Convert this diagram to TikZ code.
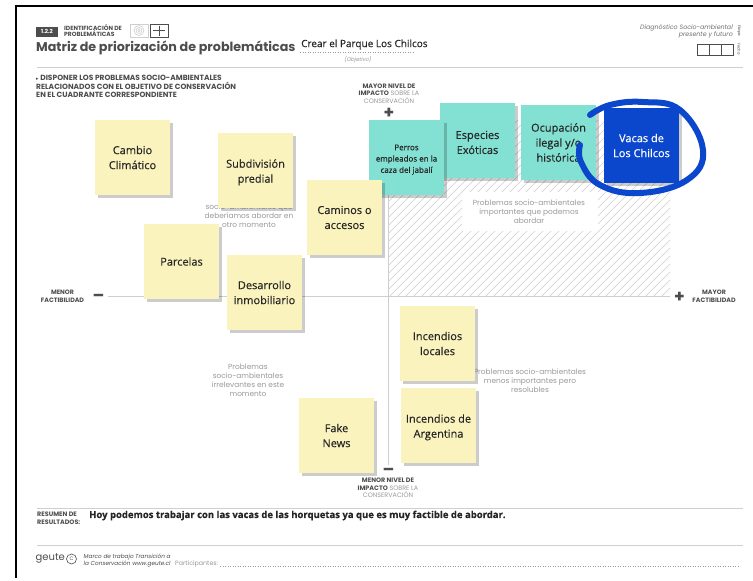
\documentclass[tikz,border=0pt]{standalone}
\usepackage{fontspec}
\setmainfont{Poppins}
\newfontfamily\handf[FakeBold=0.25]{Open Sans}
\newfontfamily\symf{DejaVu Sans}
\usetikzlibrary{shadows}
\definecolor{stickyY}{HTML}{FBF3BE}
\definecolor{stickyT}{HTML}{82E1D2}
\definecolor{stickyB}{HTML}{0A47CC}
\definecolor{inkD}{HTML}{4D4D4D}
\definecolor{inkG}{HTML}{9A9A9A}
\definecolor{ruleG}{HTML}{CFCFCF}
\newcommand{\fsz}[2]{\fontsize{#1}{#2}\selectfont}
\newcommand{\dn}{\rule{0pt}{12pt}}
\tikzset{
  stickybase/.style={minimum width=75pt,minimum height=75pt,inner sep=0pt,outer sep=0pt,align=center,
    font=\handf\fsz{11}{15},text=black!85,
    drop shadow={shadow xshift=3pt,shadow yshift=-3pt,fill=black,opacity=.2}},
  yellownote/.style={stickybase,fill=stickyY},
  tealnote/.style={stickybase,fill=stickyT},
  bluenote/.style={stickybase,fill=stickyB,text=white},
  quadtext/.style={align=center,inner sep=0pt,text=inkG,font=\fsz{7.4}{9.1}},
  axislabel/.style={align=center,inner sep=0pt,text=inkD,font=\fsz{6.4}{7.4}},
  smalllabel/.style={inner sep=0pt,text=inkD},
  rulethin/.style={draw=ruleG,line width=1pt},
  axisline/.style={draw=ruleG,line width=1.1pt},
  dotline/.style={draw=inkG,line width=.5pt,dotted},
  sign/.style={inner sep=0pt,text=inkD,font=\bfseries\fsz{17}{17}},
}
\begin{document}
\begin{tikzpicture}[x=1pt,y=-1pt]
\useasboundingbox (0,0) rectangle (753,581);
\fill[white] (0,0) rectangle (753,581);
% frame
\coordinate (fa) at (16,578);\coordinate (fb) at (16,6);\coordinate (fc) at (753,6);
\draw[black,line width=1.6pt] (fa) -- (fb) -- (fc);
% hatching
\begin{scope}
\clip (389,120) rectangle (670,296);
\foreach \i in {0,...,62}{\draw[ruleG,line width=.5pt] (190+8*\i,296) -- (390+8*\i,96);}
\end{scope}
\fill[white] (462,192) rectangle (598,231);
% rules
\coordinate (ra) at (37,67);\coordinate (rb) at (743,67);
\draw[rulethin] (ra) -- (rb);
\coordinate (rc) at (37,508);\coordinate (rd) at (743,508);
\draw[rulethin] (rc) -- (rd);
\coordinate (re) at (37,545.5);\coordinate (rf) at (743,545.5);
\draw[rulethin] (re) -- (rf);
% header
\fill[inkD] (36,26.5) rectangle (58,37);
\node[inner sep=0pt,text=white,font=\bfseries\fsz{5.6}{6}] (badge) at (47,31.8) {1.2.2};
\node[smalllabel,anchor=west,align=left,font=\bfseries\fsz{6}{6.4}] (ident) at (64,30.3) {IDENTIFICACIÓN DE\\PROBLEMÁTICAS};
\draw[ruleG,line width=.6pt] (130,24) rectangle (148,37);
\draw[ruleG,line width=.6pt] (139,30.5) circle (5) (139,30.5) circle (3) (139,30.5) circle (1.2);
\draw[inkD,line width=.6pt] (150,24) rectangle (168,37);
\draw[inkD,line width=.5pt] (159,25.5) -- (159,35.5) (153,30.5) -- (165,30.5);
\node[smalllabel,anchor=west,font=\bfseries\fsz{12.7}{15}] (title) at (36,48) {Matriz de priorización de problemáticas};
\node[inner sep=0pt,anchor=west,text=black!85,font=\handf\fsz{10}{11}] (goal) at (301,44.5) {Crear el Parque Los Chilcos};
\coordinate (ga) at (300,52);\coordinate (gb) at (414,52);
\draw[dotline] (ga) -- (gb);
\node[inner sep=0pt,text=inkG,font=\itshape\fsz{5.4}{6}] (objetivo) at (358,60) {(Objetivo)};
\node[smalllabel,anchor=north west,align=left,font=\bfseries\fsz{7.5}{8.7}] (instr) at (36,75) {{\symf\fsz{5}{8.7}▸} DISPONER LOS PROBLEMAS SOCIO-AMBIENTALES\\RELACIONADOS CON EL OBJETIVO DE CONSERVACIÓN\\EN EL CUADRANTE CORRESPONDIENTE};
\node[inner sep=0pt,anchor=east,align=right,text=inkD!80,font=\itshape\fsz{6.3}{7.2}] (diag) at (733,31.5) {Diagnóstico Socio-ambiental\\presente y futuro};
\draw[inkD,line width=.5pt] (697,44) rectangle (733,55) (709,44) -- (709,55) (721,44) -- (721,55);
\node[inner sep=0pt,rotate=-90,text=inkD,font=\itshape\fsz{3.8}{4}] (etapa) at (739,31) {Etapa};
\node[inner sep=0pt,rotate=-90,text=inkD,font=\itshape\fsz{3.8}{4}] (fecha) at (739,49) {Fecha};
% quadrant texts
\node[quadtext] (q1) at (249,211.5) {Problemas\\socio-ambientales que\\deberíamos abordar en\\otro momento};
\node[quadtext] (q2) at (529,212) {Problemas socio-ambientales\\importantes que podemos\\abordar};
\node[quadtext] (q3) at (248,380.5) {Problemas\\socio-ambientales\\irrelevantes en este\\momento};
\node[quadtext] (q4) at (530,381) {Problemas socio-ambientales\\menos importantes pero\\resolubles};
% axes
\coordinate (hl) at (108,296.5);\coordinate (hr) at (670,296.5);
\coordinate (vt) at (388.5,120);\coordinate (vb) at (388.5,465);
\draw[axisline] (hl) -- (hr);
\draw[axisline] (vt) -- (vb);
\node[sign] (plusT) at (389,113) {+};
\node[sign] (minusB) at (388.5,472) {–};
\node[sign] (minusL) at (98.5,298) {–};
\node[sign] (plusR) at (679.5,297.5) {+};
\node[axislabel] (topl) at (389,93.5) {\textbf{MAYOR NIVEL DE}\\\textbf{IMPACTO} {\color{inkG}SOBRE LA}\\{\color{inkG}CONSERVACIÓN}};
\node[axislabel] (botl) at (388,488) {\textbf{MENOR NIVEL DE}\\\textbf{IMPACTO} {\color{inkG}SOBRE LA}\\{\color{inkG}CONSERVACIÓN}};
\node[axislabel,font=\bfseries\fsz{6.3}{7.6}] (leftl) at (62.5,296.5) {MENOR\\FACTIBILIDAD};
\node[axislabel,font=\bfseries\fsz{6.3}{7.6}] (rightl) at (714,296.5) {MAYOR\\FACTIBILIDAD};
% notes
\node[yellownote] (cambio) at (132.5,157.5) {Cambio\\Climático};
\node[yellownote] (subdiv) at (255.5,170.5) {\dn Subdivisión\\predial};
\node[tealnote] (especies) at (477.5,140.5) {\dn Especies\\Exóticas};
\node[tealnote] (ocupa) at (558.5,142.5) {Ocupación\\ilegal y/o\\histórica};
\node[tealnote,font=\handf\fsz{8}{11.3}] (perros) at (406.5,157.5) {\rule{0pt}{10pt}Perros\\empleados en la\\caza del jabalí};
\node[yellownote] (caminos) at (344.5,217.5) {Caminos o\\accesos};
\node[yellownote] (parcelas) at (181.5,261.5) {Parcelas};
\node[yellownote] (desarrollo) at (264.5,292.5) {Desarrollo\\inmobiliario};
\node[yellownote] (inclocal) at (437.5,343.5) {Incendios\\locales};
\node[yellownote] (incarg) at (438.5,425.5) {\dn Incendios de\\Argentina};
\node[yellownote] (fake) at (336.5,435.5) {Fake\\News};
\node[bluenote] (vacas) at (641.5,145.5) {Vacas de\\Los Chilcos};
% hand-drawn ring
\draw[stickyB,line width=6pt,line cap=round] plot[smooth,tension=.7] coordinates {(590,115) (610,105) (643,102) (680,110) (703,150) (687,180) (640,193) (600,185) (581,162) (580,145)};
% footer
\node[smalllabel,anchor=west,align=left,font=\bfseries\fsz{6.4}{7.6}] (resumen) at (37,518) {RESUMEN DE\\RESULTADOS:};
\node[inner sep=0pt,anchor=west,text=black!85,font=\handf\bfseries\fsz{9.5}{10}] (summary) at (89,515.5) {Hoy podemos trabajar con las vacas de las horquetas ya que es muy factible de abordar.};
\node[smalllabel,anchor=west,font=\fsz{10}{12}] (geute) at (35.5,558) {geute};
\draw[inkD,line width=.6pt] (71.5,559) circle (5);
\node[inner sep=0pt,text=inkD,font=\fsz{5}{5}] (cmark) at (71.5,559) {C};
\node[inner sep=0pt,anchor=west,align=left,text=inkD,font=\itshape\fsz{5.75}{6.8}] (marco) at (83.5,560.5) {Marco de trabajo Transición a\\la Conservación www.geute.cl};
\node[inner sep=0pt,anchor=west,text=inkG,font=\fsz{6.3}{7}] (part) at (175,564) {Participantes:};
\coordinate (pa) at (220,566);\coordinate (pb) at (740,566);
\draw[dotline] (pa) -- (pb);
\end{tikzpicture}
\end{document}
